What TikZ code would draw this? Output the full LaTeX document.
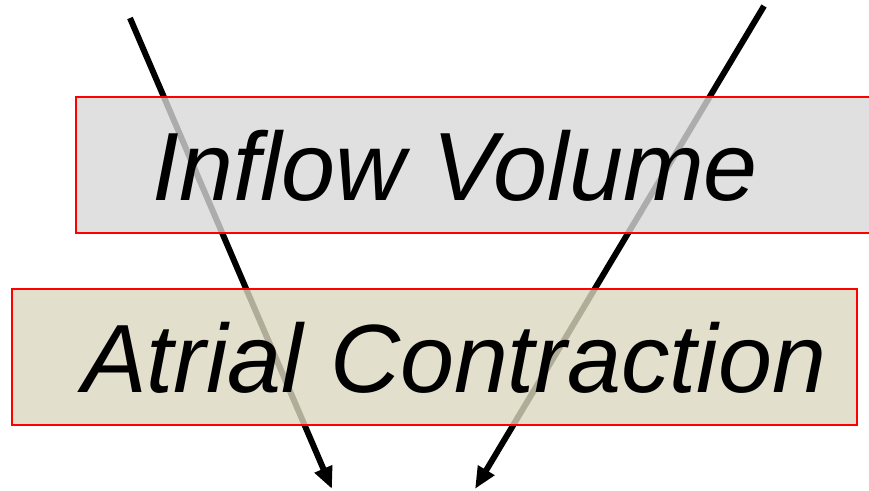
\documentclass[tikz,border=0pt]{standalone}
\usepackage{fontspec}
\setmainfont{Liberation Sans}
\usetikzlibrary{arrows.meta}
\begin{document}
\begin{tikzpicture}[x=1pt,y=-1pt,
  labelbox/.style={draw=red, line width=2pt, fill opacity=0.8},
  arrowline/.style={line width=6pt, -{Triangle[length=22pt,width=18pt]}},
  bigtext/.style={font=\fontsize{97}{100}\selectfont\itshape, inner sep=0pt, anchor=base west}]
\useasboundingbox (0,0) rectangle (869,490);
\clip (0,0) rectangle (869,490);
\coordinate (a1s) at (130,18);
\coordinate (a1e) at (332,489);
\coordinate (a2s) at (764,6);
\coordinate (a2e) at (475,489);
\draw[arrowline] (a1s) -- (a1e);
\draw[arrowline] (a2s) -- (a2e);
\definecolor{topfill}{RGB}{216,216,216}
\definecolor{botfill}{RGB}{219,215,191}
\node[labelbox, fill=topfill, minimum width=800pt, minimum height=136pt, anchor=north west, inner sep=0pt] (inflowbox) at (75,96) {};
\node[labelbox, fill=botfill, minimum width=845pt, minimum height=136pt, anchor=north west, inner sep=0pt] (atrialbox) at (11,288) {};
\node[bigtext] (inflow) at (152,200) {Inflow Volume};
\node[bigtext] (atrial) at (82,392) {Atrial Contraction};
\end{tikzpicture}
\end{document}
